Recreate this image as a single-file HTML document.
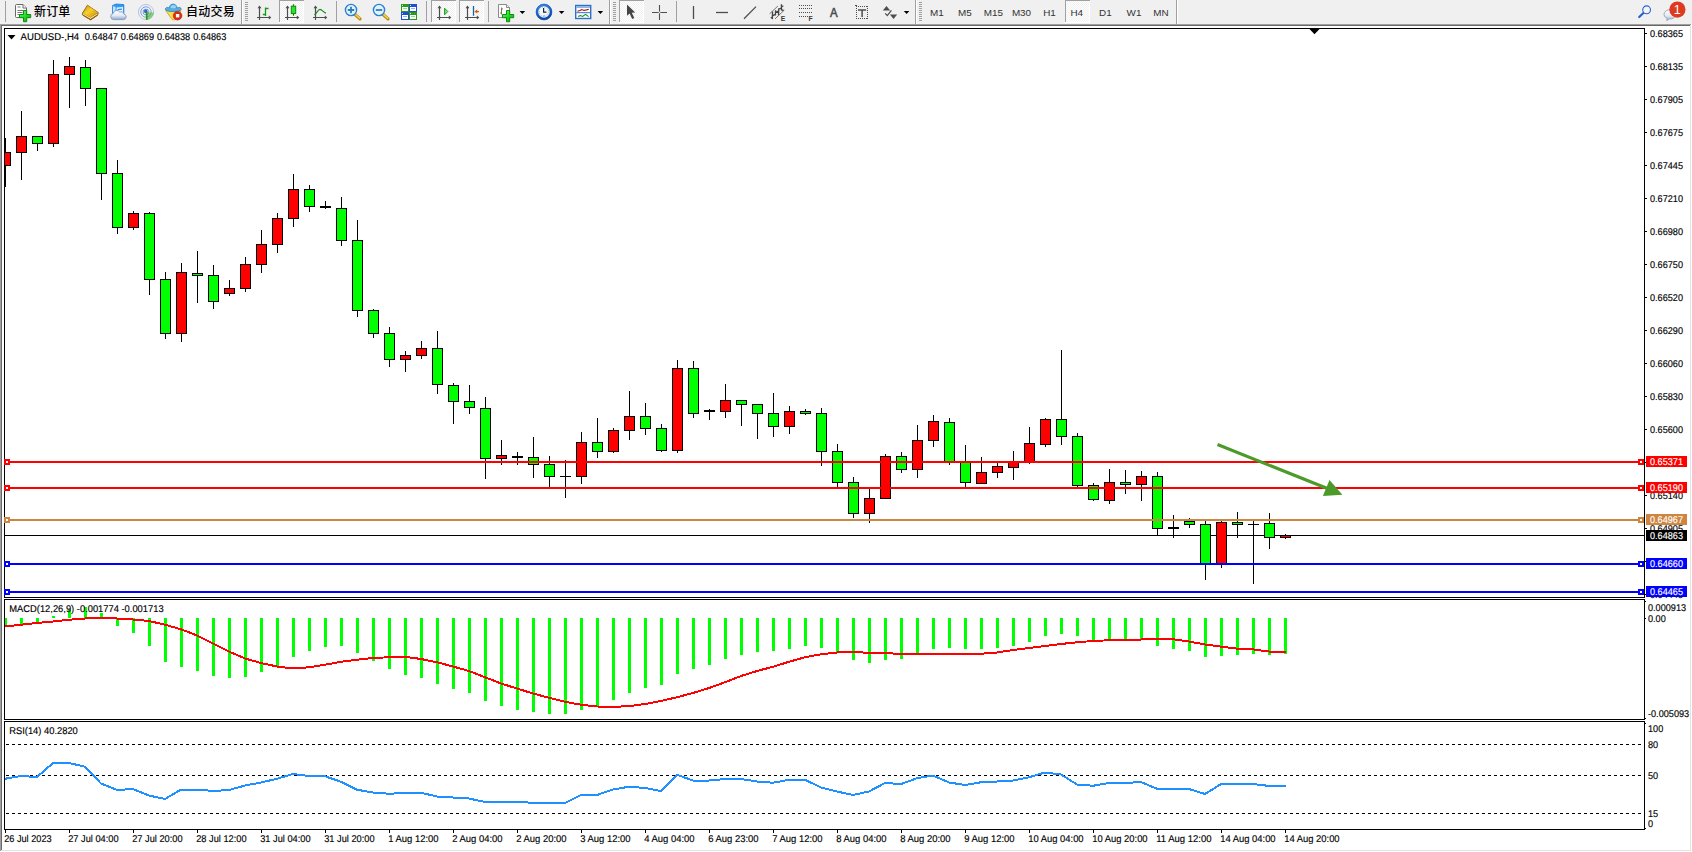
<!DOCTYPE html>
<html lang="zh"><head><meta charset="utf-8"><title>AUDUSD-,H4</title>
<style>html,body{margin:0;padding:0;background:#fff;overflow:hidden}svg{display:block}text{white-space:pre}</style>
</head><body>
<svg width="1692" height="852" viewBox="0 0 1692 852" font-family="'Liberation Sans', sans-serif" shape-rendering="crispEdges">
<defs><pattern id="chk" width="2" height="2" patternUnits="userSpaceOnUse"><rect width="2" height="2" fill="#fff"/><rect width="1" height="1" fill="#f0f0f0"/><rect x="1" y="1" width="1" height="1" fill="#f0f0f0"/></pattern>
<clipPath id="cm"><rect x="5" y="29" width="1639" height="568"/></clipPath>
</defs>
<rect x="0" y="0" width="1692" height="852" fill="#f0f0f0"/>
<rect x="0" y="24" width="1692" height="828" fill="#fff"/>
<rect x="0" y="24" width="1691" height="1" fill="#a0a0a0"/>
<rect x="1" y="25" width="1689" height="1" fill="#696969"/>
<rect x="0" y="24" width="1" height="828" fill="#a0a0a0"/>
<rect x="1" y="25" width="1" height="826" fill="#696969"/>
<rect x="1690" y="25" width="1" height="826" fill="#e3e3e3"/>
<rect x="1" y="850" width="1690" height="1" fill="#e3e3e3"/>
<rect x="1691" y="24" width="1" height="828" fill="#fff"/>
<rect x="0" y="851" width="1692" height="1" fill="#fff"/>
<g id="toolbar">
<rect x="5" y="1" width="1" height="21" fill="#a0a0a0"/>
<defs><linearGradient id="gp" x1="0" y1="0" x2="1" y2="1"><stop offset="0" stop-color="#7dfb7d"/><stop offset=".5" stop-color="#22dc22"/><stop offset="1" stop-color="#0aa80a"/></linearGradient><linearGradient id="gbk" x1="0" y1="0" x2="1" y2="1"><stop offset="0" stop-color="#c8900c"/><stop offset=".45" stop-color="#f7d128"/><stop offset="1" stop-color="#c48a0c"/></linearGradient><linearGradient id="gcl" x1="0" y1="0" x2="0" y2="1"><stop offset="0" stop-color="#ffffff"/><stop offset=".55" stop-color="#e4eaf4"/><stop offset="1" stop-color="#8fa6cc"/></linearGradient><radialGradient id="gck" cx=".4" cy=".35" r=".8"><stop offset="0" stop-color="#ffffff"/><stop offset="1" stop-color="#dfe8f4"/></radialGradient></defs>
<g shape-rendering="auto"><path d="M16.5,4.5h6.5l3.5,3.5v8.5q0,1 -1,1h-9q-1,0 -1,-1v-11q0,-1 1,-1z" fill="#fcfcfc" stroke="#686868" stroke-width="1"/><path d="M23,4.5v3.5h3.5" fill="#fff" stroke="#686868" stroke-width="1"/><path d="M17.5,7h3M17.5,10.5h6M17.5,12.5h5M17.5,14.5h3" stroke="#777" stroke-width="1.1"/></g>
<path d="M23.5,10.5h3.2v4h4v3.2h-4v4h-3.2v-4h-4v-3.2h4z" fill="url(#gp)" stroke="#0c8c0c" stroke-width="1" stroke-linejoin="round" shape-rendering="auto"/>
<text x="34" y="16.2" font-size="12" font-weight="500" letter-spacing=".15" fill="#000" font-family="'Liberation Sans','Noto Sans CJK SC',sans-serif">新订单</text>
<g shape-rendering="auto"><path d="M87.4,5.2 L98.3,12.6 L97.6,15.2 L90.6,19.9 L82.2,14.6 L82.6,13 Z" fill="#a8700c" stroke="#8a5a08" stroke-width=".8" stroke-linejoin="round"/><path d="M82.8,14.6 L90.6,19 L97.4,14.6 L97.6,13.2 L90.4,17.4 L83,13.4Z" fill="#f0e0a0"/><path d="M87.4,5.4 C86.6,7 85,10.6 82.8,13.2 L90.4,17.2 L98,12.6 Z" fill="url(#gbk)"/><path d="M82.8,15.2 L90.6,19.6 L97.6,15" stroke="#8a5a08" stroke-width=".9" fill="none"/></g>
<g shape-rendering="auto"><path d="M112.5,5.6 L116,4 L123.8,4.6 L123.8,14 L112.5,14 Z" fill="#2f9cf0" stroke="#1c78dc" stroke-width=".8"/><path d="M112.9,6 L115.6,7 L115.6,14 L112.9,14Z" fill="#bfe4ff"/><path d="M116.6,7.4 L123,7 L123,13 L116.6,13Z" fill="#e8f4ff"/><path d="M117.6,9.6 L122,9.2" stroke="#2f8ce0" stroke-width="1.2"/><path d="M113.4,19.6 a3.1,3.1 0 0 1 -0.2,-6.1 a3.6,3.6 0 0 1 6.6,-1.4 a3,3 0 0 1 4.2,2 a2.8,2.8 0 0 1 -0.3,5.5 Z" fill="url(#gcl)" stroke="#8098c4" stroke-width=".9"/></g>
<defs><linearGradient id="gsg" x1="0" y1="0" x2="1" y2="1"><stop offset="0" stop-color="#3f74e0"/><stop offset=".55" stop-color="#6f8fd0"/><stop offset="1" stop-color="#3aa83a"/></linearGradient></defs>
<g shape-rendering="auto" fill="none"><circle cx="146" cy="12" r="7.6" stroke="url(#gsg)" stroke-width="1" opacity=".4"/><circle cx="146" cy="12" r="5.2" stroke="url(#gsg)" stroke-width="1" opacity=".75"/><circle cx="146" cy="12" r="2.9" stroke="url(#gsg)" stroke-width=".9" opacity=".9"/><path d="M146.6,19.8 A7.8,7.8 0 0 0 153.8,12.4 L146.6,12.4Z" fill="#4aa84a" opacity=".55"/><circle cx="145.8" cy="11.4" r="1.8" fill="#2b62d6"/><path d="M146.7,12v7.8" stroke="#1d9a1d" stroke-width="1.6"/></g>
<g shape-rendering="auto"><path d="M165.6,10.6 L181,10.6 L175.4,19.8 L172.4,19.8 Z" fill="#f8dc50" stroke="#d4a41c" stroke-width=".9" stroke-linejoin="round"/><path d="M165.2,9.2 C166,6.4 169,7.6 169.6,8 C169,3 177,2.6 176.8,8 C178,7.4 181,6.6 181.2,9.2 C180,12.4 166.6,12.4 165.2,9.2Z" fill="#58aee2" stroke="#2a80c0" stroke-width=".8"/><path d="M170.4,7.6 C171,4.4 175.6,4.2 176,7.4 C174.4,8.6 172,8.6 170.4,7.6Z" fill="#9ad4f4"/><circle cx="177.6" cy="15.7" r="4.3" fill="#e02a10" stroke="#b01c08" stroke-width=".6"/><rect x="175.9" y="14" width="3.4" height="3.4" fill="#fff"/></g>
<text x="186.1" y="16.2" font-size="12" font-weight="500" letter-spacing=".25" fill="#000" font-family="'Liberation Sans','Noto Sans CJK SC',sans-serif">自动交易</text>
<rect x="241" y="0" width="1" height="24" fill="#a0a0a0"/><rect x="242" y="0" width="1" height="24" fill="#fff"/>
<rect x="245" y="2" width="3" height="1" fill="#a0a0a0"/>
<rect x="245" y="4" width="3" height="1" fill="#a0a0a0"/>
<rect x="245" y="6" width="3" height="1" fill="#a0a0a0"/>
<rect x="245" y="8" width="3" height="1" fill="#a0a0a0"/>
<rect x="245" y="10" width="3" height="1" fill="#a0a0a0"/>
<rect x="245" y="12" width="3" height="1" fill="#a0a0a0"/>
<rect x="245" y="14" width="3" height="1" fill="#a0a0a0"/>
<rect x="245" y="16" width="3" height="1" fill="#a0a0a0"/>
<rect x="245" y="18" width="3" height="1" fill="#a0a0a0"/>
<rect x="245" y="20" width="3" height="1" fill="#a0a0a0"/>
<g shape-rendering="auto" stroke="#4d4d4d" stroke-width="1.2" fill="#4d4d4d"><path d="M259.5,6.5V20M257.0,17.5H270.0" fill="none"/><polygon points="257.5,8.2 259.5,5.6 261.5,8.2" stroke="none"/><polygon points="268.8,15.5 271.3,17.5 268.8,19.5" stroke="none"/></g>
<path d="M265.5,7.5V16M265.5,8.5H268.5M262.8,14.5H265.5" stroke="#189a18" stroke-width="1.3" fill="none" shape-rendering="auto"/>
<rect x="279" y="0" width="25" height="23" fill="url(#chk)"/>
<rect x="279" y="0" width="25" height="1" fill="#a0a0a0"/><rect x="279" y="0" width="1" height="23" fill="#a0a0a0"/>
<rect x="279" y="22" width="25" height="1" fill="#fff"/><rect x="303" y="1" width="1" height="22" fill="#fff"/>
<g shape-rendering="auto" stroke="#4d4d4d" stroke-width="1.2" fill="#4d4d4d"><path d="M287.5,6.5V20M285.0,17.5H298.0" fill="none"/><polygon points="285.5,8.2 287.5,5.6 289.5,8.2" stroke="none"/><polygon points="296.8,15.5 299.3,17.5 296.8,19.5" stroke="none"/></g>
<g shape-rendering="auto"><path d="M293.5,4.2V15.8" stroke="#0c8a0c" stroke-width="1.2"/><rect x="291.3" y="6.2" width="4.4" height="7.4" fill="#2fe02f" stroke="#0c8a0c" stroke-width="1"/></g>
<g shape-rendering="auto" stroke="#4d4d4d" stroke-width="1.2" fill="#4d4d4d"><path d="M315.5,6.5V20M313.0,17.5H326.0" fill="none"/><polygon points="313.5,8.2 315.5,5.6 317.5,8.2" stroke="none"/><polygon points="324.8,15.5 327.3,17.5 324.8,19.5" stroke="none"/></g>
<path d="M314.3,14.8 C316.5,13.6 318,9.4 320,9.4 C322,9.4 323.5,12.6 326,13.2" stroke="#1c8c1c" stroke-width="1.2" fill="none" shape-rendering="auto"/>
<rect x="336" y="1" width="1" height="21" fill="#a0a0a0"/>
<g shape-rendering="auto"><path d="M354.8,14.2 L360,18.9" stroke="#b8860b" stroke-width="3.2" stroke-linecap="round"/><path d="M355,14 L359.6,18.2" stroke="#f2d04a" stroke-width="1.6" stroke-linecap="round"/><circle cx="351" cy="10" r="5.6" fill="#dff4ff" stroke="#2f7fd0" stroke-width="1.4"/><path d="M347.8,10H354.2M351,6.8V13.2" stroke="#2e7fb8" stroke-width="1.8"/></g>
<g shape-rendering="auto"><path d="M382.8,14.2 L388,18.9" stroke="#b8860b" stroke-width="3.2" stroke-linecap="round"/><path d="M383,14 L387.6,18.2" stroke="#f2d04a" stroke-width="1.6" stroke-linecap="round"/><circle cx="379" cy="10" r="5.6" fill="#dff4ff" stroke="#2f7fd0" stroke-width="1.4"/><path d="M375.8,10H382.2" stroke="#2e7fb8" stroke-width="1.8"/></g>
<rect x="401" y="4" width="8" height="8" fill="#2c9a1c"/><rect x="402" y="7" width="6" height="4" fill="#fff"/><rect x="403" y="8" width="4" height="1" fill="#8fdc70"/><rect x="402" y="5" width="1" height="1" fill="#fff" opacity=".8"/>
<rect x="409" y="4" width="8" height="8" fill="#1d4fd0"/><rect x="410" y="7" width="6" height="4" fill="#fff"/><rect x="411" y="8" width="4" height="1" fill="#8fb0ff"/><rect x="410" y="5" width="1" height="1" fill="#fff" opacity=".8"/>
<rect x="401" y="12" width="8" height="8" fill="#1d4fd0"/><rect x="402" y="15" width="6" height="4" fill="#fff"/><rect x="403" y="16" width="4" height="1" fill="#8fb0ff"/><rect x="402" y="13" width="1" height="1" fill="#fff" opacity=".8"/>
<rect x="409" y="12" width="8" height="8" fill="#2c9a1c"/><rect x="410" y="15" width="6" height="4" fill="#fff"/><rect x="411" y="16" width="4" height="1" fill="#8fdc70"/><rect x="410" y="13" width="1" height="1" fill="#fff" opacity=".8"/>
<rect x="426" y="1" width="1" height="21" fill="#a0a0a0"/>
<rect x="431" y="0" width="25" height="23" fill="url(#chk)"/>
<rect x="431" y="0" width="25" height="1" fill="#a0a0a0"/><rect x="431" y="0" width="1" height="23" fill="#a0a0a0"/>
<rect x="431" y="22" width="25" height="1" fill="#fff"/><rect x="455" y="1" width="1" height="22" fill="#fff"/>
<g shape-rendering="auto" stroke="#4d4d4d" stroke-width="1.2" fill="#4d4d4d"><path d="M439.5,6.5V20M437.0,17.5H450.0" fill="none"/><polygon points="437.5,8.2 439.5,5.6 441.5,8.2" stroke="none"/><polygon points="448.8,15.5 451.3,17.5 448.8,19.5" stroke="none"/></g>
<polygon points="444.6,8.2 447.8,11.5 444.6,14.8" fill="#7fe07f" stroke="#189a18" stroke-width="1" shape-rendering="auto"/>
<rect x="459" y="0" width="25" height="23" fill="url(#chk)"/>
<rect x="459" y="0" width="25" height="1" fill="#a0a0a0"/><rect x="459" y="0" width="1" height="23" fill="#a0a0a0"/>
<rect x="459" y="22" width="25" height="1" fill="#fff"/><rect x="483" y="1" width="1" height="22" fill="#fff"/>
<g shape-rendering="auto" stroke="#4d4d4d" stroke-width="1.2" fill="#4d4d4d"><path d="M467.5,6.5V20M465.0,17.5H478.0" fill="none"/><polygon points="465.5,8.2 467.5,5.6 469.5,8.2" stroke="none"/><polygon points="476.8,15.5 479.3,17.5 476.8,19.5" stroke="none"/></g>
<g shape-rendering="auto"><path d="M473.5,6V15.8" stroke="#1464a8" stroke-width="1.3"/><path d="M475,11.6H479" stroke="#d04a00" stroke-width="1.1"/><polygon points="474.3,11.6 477.3,9.6 477.3,13.6" fill="#e05a00"/></g>
<rect x="488" y="1" width="1" height="21" fill="#a0a0a0"/>
<g shape-rendering="auto"><path d="M498.5,4.5h8l3,3v10h-11z" fill="#fff" stroke="#8a8a8a" stroke-width="1"/><path d="M506.5,4.5v3h3" fill="#eee" stroke="#8a8a8a" stroke-width="1"/><path d="M501.5,7.5v7M501.5,9h1.5M500,13h1.5" stroke="#7a6a4a" stroke-width=".9" fill="none"/></g>
<path d="M506.5,10.5h3.2v4h4v3.2h-4v4h-3.2v-4h-4v-3.2h4z" fill="url(#gp)" stroke="#0c8c0c" stroke-width="1" stroke-linejoin="round" shape-rendering="auto"/>
<polygon points="519.6,11.1 525.2,11.1 522.4,14" fill="#000" shape-rendering="auto"/>
<defs><linearGradient id="gcr" x1="0" y1="0" x2="0.3" y2="1"><stop offset="0" stop-color="#2f8cf0"/><stop offset="1" stop-color="#0a48b0"/></linearGradient></defs>
<g shape-rendering="auto"><circle cx="544" cy="12" r="6.9" fill="url(#gck)" stroke="url(#gcr)" stroke-width="2.3"/><circle cx="544" cy="12" r="7.9" fill="none" stroke="#0c4aa8" stroke-width=".6"/><path d="M543.6,8V12.2H546.4" stroke="#222" stroke-width="1.2" fill="none"/><path d="M543.2,15.9h1.8" stroke="#6aa8ff" stroke-width="1"/><circle cx="544" cy="12" r="4.6" fill="none" stroke="#8a8a8a" stroke-width="1" stroke-dasharray=".6,1.81"/></g>
<polygon points="558.8,11.1 564.4,11.1 561.5999999999999,14" fill="#000" shape-rendering="auto"/>
<g shape-rendering="auto"><rect x="575.7" y="5.5" width="15" height="13" fill="#fff" stroke="#2f6fc8" stroke-width="1.4"/><rect x="576.4" y="6.2" width="13.6" height="1.7" fill="#7ab0ea"/><path d="M576.4,12.7h13.6" stroke="#2f6fc8" stroke-width="1"/><path d="M577.5,11.2 L580,10.4 L581.8,9.6 L584,10.4 L586,10 L588.7,9.4" stroke="#a01010" stroke-width="1.1" fill="none"/><path d="M578.2,16.6 L580.4,15.6 L582.6,16.4 L585.6,14.4 L588.6,16.6" stroke="#0c8a1c" stroke-width="1.1" fill="none"/></g>
<polygon points="597.6,11.1 603.2,11.1 600.4,14" fill="#000" shape-rendering="auto"/>
<rect x="609" y="0" width="1" height="24" fill="#a0a0a0"/><rect x="610" y="0" width="1" height="24" fill="#fff"/>
<rect x="613" y="2" width="3" height="1" fill="#a0a0a0"/>
<rect x="613" y="4" width="3" height="1" fill="#a0a0a0"/>
<rect x="613" y="6" width="3" height="1" fill="#a0a0a0"/>
<rect x="613" y="8" width="3" height="1" fill="#a0a0a0"/>
<rect x="613" y="10" width="3" height="1" fill="#a0a0a0"/>
<rect x="613" y="12" width="3" height="1" fill="#a0a0a0"/>
<rect x="613" y="14" width="3" height="1" fill="#a0a0a0"/>
<rect x="613" y="16" width="3" height="1" fill="#a0a0a0"/>
<rect x="613" y="18" width="3" height="1" fill="#a0a0a0"/>
<rect x="613" y="20" width="3" height="1" fill="#a0a0a0"/>
<rect x="619" y="0" width="25" height="23" fill="url(#chk)"/>
<rect x="619" y="0" width="25" height="1" fill="#a0a0a0"/><rect x="619" y="0" width="1" height="23" fill="#a0a0a0"/>
<rect x="619" y="22" width="25" height="1" fill="#fff"/><rect x="643" y="1" width="1" height="22" fill="#fff"/>
<polygon points="627,4.6 627,15.8 629.6,13.6 632.2,19 634.3,18 631.8,12.8 635.2,12.6" fill="#454545" shape-rendering="auto"/>
<path d="M659.5,5V11.7M659.5,13.3V20M652,12.5H658.7M660.3,12.5H667" stroke="#505050" stroke-width="1.1" fill="none" shape-rendering="auto"/>
<rect x="676" y="1" width="1" height="21" fill="#a0a0a0"/>
<g stroke="#4d4d4d" stroke-width="1.3" fill="none" shape-rendering="auto"><path d="M693.5,6V19"/><path d="M716,12.5H728"/><path d="M744,18.8L756,6.6"/></g>
<g shape-rendering="auto" stroke="#444" fill="none"><path d="M769.6,13.8L777.9,6M775,18.9L784.3,10.1" stroke-width=".9" stroke="#666"/><path d="M770.8,17.3L772.4,18.5L772.5,11.4M772.4,15.8L775.4,14.4M775.4,15.6L775.6,10.2M775.5,12.4L778.5,11.2M778.5,15.2L778.8,8.2M778.7,9.2L781.4,8.2M781.6,10.6L781.4,4.2M781.5,6.4L783.4,6.2M781.6,10L783.6,10.4" stroke-width="1.35" stroke-linejoin="round"/></g>
<text x="780.8" y="21" font-size="6.8" font-weight="bold" fill="#3a3a3a">E</text>
<rect x="799" y="5" width="1" height="1" fill="#4d4d4d"/>
<rect x="801" y="5" width="1" height="1" fill="#4d4d4d"/>
<rect x="803" y="5" width="1" height="1" fill="#4d4d4d"/>
<rect x="805" y="5" width="1" height="1" fill="#4d4d4d"/>
<rect x="807" y="5" width="1" height="1" fill="#4d4d4d"/>
<rect x="809" y="5" width="1" height="1" fill="#4d4d4d"/>
<rect x="811" y="5" width="1" height="1" fill="#4d4d4d"/>
<rect x="799" y="8" width="1" height="1" fill="#4d4d4d"/>
<rect x="801" y="8" width="1" height="1" fill="#4d4d4d"/>
<rect x="803" y="8" width="1" height="1" fill="#4d4d4d"/>
<rect x="805" y="8" width="1" height="1" fill="#4d4d4d"/>
<rect x="807" y="8" width="1" height="1" fill="#4d4d4d"/>
<rect x="809" y="8" width="1" height="1" fill="#4d4d4d"/>
<rect x="811" y="8" width="1" height="1" fill="#4d4d4d"/>
<rect x="799" y="12" width="1" height="1" fill="#4d4d4d"/>
<rect x="801" y="12" width="1" height="1" fill="#4d4d4d"/>
<rect x="803" y="12" width="1" height="1" fill="#4d4d4d"/>
<rect x="805" y="12" width="1" height="1" fill="#4d4d4d"/>
<rect x="807" y="12" width="1" height="1" fill="#4d4d4d"/>
<rect x="809" y="12" width="1" height="1" fill="#4d4d4d"/>
<rect x="811" y="12" width="1" height="1" fill="#4d4d4d"/>
<rect x="799" y="16" width="1" height="1" fill="#4d4d4d"/>
<rect x="801" y="16" width="1" height="1" fill="#4d4d4d"/>
<rect x="803" y="16" width="1" height="1" fill="#4d4d4d"/>
<rect x="805" y="16" width="1" height="1" fill="#4d4d4d"/>
<rect x="807" y="16" width="1" height="1" fill="#4d4d4d"/>
<text x="808.6" y="21" font-size="6.8" font-weight="bold" fill="#3a3a3a">F</text>
<text x="833.8" y="17" font-size="12" fill="#4d4d4d" text-anchor="middle" stroke="#4d4d4d" stroke-width=".55" textLength="7.6" lengthAdjust="spacingAndGlyphs">A</text>
<rect x="858" y="6" width="1" height="1" fill="#4d4d4d"/><rect x="858" y="18" width="1" height="1" fill="#4d4d4d"/>
<rect x="860" y="6" width="1" height="1" fill="#4d4d4d"/><rect x="860" y="18" width="1" height="1" fill="#4d4d4d"/>
<rect x="862" y="6" width="1" height="1" fill="#4d4d4d"/><rect x="862" y="18" width="1" height="1" fill="#4d4d4d"/>
<rect x="864" y="6" width="1" height="1" fill="#4d4d4d"/><rect x="864" y="18" width="1" height="1" fill="#4d4d4d"/>
<rect x="866" y="6" width="1" height="1" fill="#4d4d4d"/><rect x="866" y="18" width="1" height="1" fill="#4d4d4d"/>
<rect x="856" y="6" width="1" height="1" fill="#4d4d4d"/><rect x="867" y="6" width="1" height="1" fill="#4d4d4d"/>
<rect x="856" y="8" width="1" height="1" fill="#4d4d4d"/><rect x="867" y="8" width="1" height="1" fill="#4d4d4d"/>
<rect x="856" y="10" width="1" height="1" fill="#4d4d4d"/><rect x="867" y="10" width="1" height="1" fill="#4d4d4d"/>
<rect x="856" y="12" width="1" height="1" fill="#4d4d4d"/><rect x="867" y="12" width="1" height="1" fill="#4d4d4d"/>
<rect x="856" y="14" width="1" height="1" fill="#4d4d4d"/><rect x="867" y="14" width="1" height="1" fill="#4d4d4d"/>
<rect x="856" y="16" width="1" height="1" fill="#4d4d4d"/><rect x="867" y="16" width="1" height="1" fill="#4d4d4d"/>
<rect x="856" y="18" width="1" height="1" fill="#4d4d4d"/><rect x="867" y="18" width="1" height="1" fill="#4d4d4d"/>
<rect x="855" y="5" width="2" height="1" fill="#4d4d4d"/>
<path d="M858,10H866.2M862.1,10V17" stroke="#4d4d4d" stroke-width="1.5" fill="none" shape-rendering="auto"/>
<g shape-rendering="auto" fill="#4d4d4d"><polygon points="882.8,10.5 886.5,6 890.2,10.5"/><path d="M885.2,13.4L887.3,15.6L891.4,10.4" stroke="#4d4d4d" stroke-width="1.3" fill="none"/><polygon points="889.9,14.6 897.2,14.6 893.5,19"/></g>
<polygon points="903.8,11.1 909.4,11.1 906.5999999999999,14" fill="#000" shape-rendering="auto"/>
<rect x="915" y="0" width="1" height="24" fill="#a0a0a0"/><rect x="916" y="0" width="1" height="24" fill="#fff"/>
<rect x="919" y="2" width="3" height="1" fill="#a0a0a0"/>
<rect x="919" y="4" width="3" height="1" fill="#a0a0a0"/>
<rect x="919" y="6" width="3" height="1" fill="#a0a0a0"/>
<rect x="919" y="8" width="3" height="1" fill="#a0a0a0"/>
<rect x="919" y="10" width="3" height="1" fill="#a0a0a0"/>
<rect x="919" y="12" width="3" height="1" fill="#a0a0a0"/>
<rect x="919" y="14" width="3" height="1" fill="#a0a0a0"/>
<rect x="919" y="16" width="3" height="1" fill="#a0a0a0"/>
<rect x="919" y="18" width="3" height="1" fill="#a0a0a0"/>
<rect x="919" y="20" width="3" height="1" fill="#a0a0a0"/>
<rect x="1065" y="0" width="25" height="23" fill="url(#chk)"/>
<rect x="1065" y="0" width="25" height="1" fill="#a0a0a0"/><rect x="1065" y="0" width="1" height="23" fill="#a0a0a0"/>
<rect x="1065" y="22" width="25" height="1" fill="#fff"/><rect x="1089" y="1" width="1" height="22" fill="#fff"/>
<text x="936.8" y="16.1" font-size="9.9" fill="#333" text-anchor="middle">M1</text>
<text x="964.8" y="16.1" font-size="9.9" fill="#333" text-anchor="middle">M5</text>
<text x="993.3" y="16.1" font-size="9.9" fill="#333" text-anchor="middle">M15</text>
<text x="1021.5" y="16.1" font-size="9.9" fill="#333" text-anchor="middle">M30</text>
<text x="1049.5" y="16.1" font-size="9.9" fill="#333" text-anchor="middle">H1</text>
<text x="1076.8" y="16.1" font-size="9.9" fill="#333" text-anchor="middle">H4</text>
<text x="1105.4" y="16.1" font-size="9.9" fill="#333" text-anchor="middle">D1</text>
<text x="1134" y="16.1" font-size="9.9" fill="#333" text-anchor="middle">W1</text>
<text x="1161" y="16.1" font-size="9.9" fill="#333" text-anchor="middle">MN</text>
<rect x="1176" y="0" width="1" height="24" fill="#a0a0a0"/><rect x="1177" y="0" width="1" height="24" fill="#fff"/>
<g shape-rendering="auto"><path d="M1643.4,13 L1639.2,17" stroke="#2a5fd0" stroke-width="2.2" stroke-linecap="round"/><circle cx="1646.6" cy="9.8" r="3.9" fill="#f4f4f4" stroke="#2a5fd0" stroke-width="1.1"/><path d="M1664,14.5 a6,4.6 0 1 1 5,4.4 l-2.2,1.8 l0.3,-2.3 a6,4.6 0 0 1 -3.1,-3.9z" fill="url(#gcl)" stroke="#a4a8b4" stroke-width="1"/><circle cx="1677.4" cy="9.6" r="8.1" fill="#de3a20"/></g>
<text x="1677.2" y="14.2" font-size="12.5" fill="#fff" text-anchor="middle">1</text>
</g>
<rect x="4" y="28" width="1641" height="1" fill="#000"/>
<rect x="4" y="28" width="1" height="802" fill="#000"/>
<rect x="1644" y="28" width="1" height="802" fill="#000"/>
<rect x="4" y="597" width="1641" height="1" fill="#000"/>
<rect x="4" y="599" width="1641" height="1" fill="#000"/>
<rect x="4" y="719" width="1641" height="1" fill="#000"/>
<rect x="4" y="721" width="1641" height="1" fill="#000"/>
<rect x="4" y="829" width="1641" height="1" fill="#000"/>
<rect x="4" y="598" width="1641" height="1" fill="#fff"/>
<rect x="4" y="720" width="1641" height="1" fill="#fff"/>
<rect x="1645" y="33" width="2" height="1" fill="#000"/>
<text x="1650" y="37" fill="#000" stroke="#000" stroke-width=".15" text-rendering="geometricPrecision" font-size="9.8" textLength="33.00" lengthAdjust="spacingAndGlyphs">0.68365</text>
<rect x="1645" y="66" width="2" height="1" fill="#000"/>
<text x="1650" y="70" fill="#000" stroke="#000" stroke-width=".15" text-rendering="geometricPrecision" font-size="9.8" textLength="33.00" lengthAdjust="spacingAndGlyphs">0.68135</text>
<rect x="1645" y="99" width="2" height="1" fill="#000"/>
<text x="1650" y="103" fill="#000" stroke="#000" stroke-width=".15" text-rendering="geometricPrecision" font-size="9.8" textLength="33.00" lengthAdjust="spacingAndGlyphs">0.67905</text>
<rect x="1645" y="132" width="2" height="1" fill="#000"/>
<text x="1650" y="136" fill="#000" stroke="#000" stroke-width=".15" text-rendering="geometricPrecision" font-size="9.8" textLength="33.00" lengthAdjust="spacingAndGlyphs">0.67675</text>
<rect x="1645" y="165" width="2" height="1" fill="#000"/>
<text x="1650" y="169" fill="#000" stroke="#000" stroke-width=".15" text-rendering="geometricPrecision" font-size="9.8" textLength="33.00" lengthAdjust="spacingAndGlyphs">0.67445</text>
<rect x="1645" y="198" width="2" height="1" fill="#000"/>
<text x="1650" y="202" fill="#000" stroke="#000" stroke-width=".15" text-rendering="geometricPrecision" font-size="9.8" textLength="33.00" lengthAdjust="spacingAndGlyphs">0.67210</text>
<rect x="1645" y="231" width="2" height="1" fill="#000"/>
<text x="1650" y="235" fill="#000" stroke="#000" stroke-width=".15" text-rendering="geometricPrecision" font-size="9.8" textLength="33.00" lengthAdjust="spacingAndGlyphs">0.66980</text>
<rect x="1645" y="264" width="2" height="1" fill="#000"/>
<text x="1650" y="268" fill="#000" stroke="#000" stroke-width=".15" text-rendering="geometricPrecision" font-size="9.8" textLength="33.00" lengthAdjust="spacingAndGlyphs">0.66750</text>
<rect x="1645" y="297" width="2" height="1" fill="#000"/>
<text x="1650" y="301" fill="#000" stroke="#000" stroke-width=".15" text-rendering="geometricPrecision" font-size="9.8" textLength="33.00" lengthAdjust="spacingAndGlyphs">0.66520</text>
<rect x="1645" y="330" width="2" height="1" fill="#000"/>
<text x="1650" y="334" fill="#000" stroke="#000" stroke-width=".15" text-rendering="geometricPrecision" font-size="9.8" textLength="33.00" lengthAdjust="spacingAndGlyphs">0.66290</text>
<rect x="1645" y="363" width="2" height="1" fill="#000"/>
<text x="1650" y="367" fill="#000" stroke="#000" stroke-width=".15" text-rendering="geometricPrecision" font-size="9.8" textLength="33.00" lengthAdjust="spacingAndGlyphs">0.66060</text>
<rect x="1645" y="396" width="2" height="1" fill="#000"/>
<text x="1650" y="400" fill="#000" stroke="#000" stroke-width=".15" text-rendering="geometricPrecision" font-size="9.8" textLength="33.00" lengthAdjust="spacingAndGlyphs">0.65830</text>
<rect x="1645" y="429" width="2" height="1" fill="#000"/>
<text x="1650" y="433" fill="#000" stroke="#000" stroke-width=".15" text-rendering="geometricPrecision" font-size="9.8" textLength="33.00" lengthAdjust="spacingAndGlyphs">0.65600</text>
<rect x="1645" y="462" width="2" height="1" fill="#000"/>
<text x="1650" y="466" fill="#000" stroke="#000" stroke-width=".15" text-rendering="geometricPrecision" font-size="9.8" textLength="33.00" lengthAdjust="spacingAndGlyphs">0.65370</text>
<rect x="1645" y="495" width="2" height="1" fill="#000"/>
<text x="1650" y="499" fill="#000" stroke="#000" stroke-width=".15" text-rendering="geometricPrecision" font-size="9.8" textLength="33.00" lengthAdjust="spacingAndGlyphs">0.65140</text>
<rect x="1645" y="528" width="2" height="1" fill="#000"/>
<text x="1650" y="532" fill="#000" stroke="#000" stroke-width=".15" text-rendering="geometricPrecision" font-size="9.8" textLength="33.00" lengthAdjust="spacingAndGlyphs">0.64905</text>
<rect x="1645" y="561" width="2" height="1" fill="#000"/>
<text x="1650" y="565" fill="#000" stroke="#000" stroke-width=".15" text-rendering="geometricPrecision" font-size="9.8" textLength="33.00" lengthAdjust="spacingAndGlyphs">0.64675</text>
<rect x="1645" y="594" width="2" height="1" fill="#000"/>
<text x="1650" y="598" fill="#000" stroke="#000" stroke-width=".15" text-rendering="geometricPrecision" font-size="9.8" textLength="33.00" lengthAdjust="spacingAndGlyphs">0.64445</text>
<polygon points="7.5,35 15.5,35 11.5,39.5" fill="#000" shape-rendering="auto"/>
<text x="20.6" y="40" fill="#000" stroke="#000" stroke-width=".15" text-rendering="geometricPrecision" font-size="9.8" textLength="58.60" lengthAdjust="spacingAndGlyphs">AUDUSD-,H4</text>
<text x="84.7" y="40" fill="#000" stroke="#000" stroke-width=".15" text-rendering="geometricPrecision" font-size="9.8" textLength="33.20" lengthAdjust="spacingAndGlyphs">0.64847</text>
<text x="120.85" y="40" fill="#000" stroke="#000" stroke-width=".15" text-rendering="geometricPrecision" font-size="9.8" textLength="33.20" lengthAdjust="spacingAndGlyphs">0.64869</text>
<text x="157.0" y="40" fill="#000" stroke="#000" stroke-width=".15" text-rendering="geometricPrecision" font-size="9.8" textLength="33.20" lengthAdjust="spacingAndGlyphs">0.64838</text>
<text x="193.14999999999998" y="40" fill="#000" stroke="#000" stroke-width=".15" text-rendering="geometricPrecision" font-size="9.8" textLength="33.20" lengthAdjust="spacingAndGlyphs">0.64863</text>
<rect x="5" y="535" width="1639" height="1" fill="#000"/>
<g clip-path="url(#cm)">
<rect x="5" y="138" width="1" height="49" fill="#000"/>
<rect x="0" y="152" width="11" height="14" fill="#000"/>
<rect x="1" y="153" width="9" height="12" fill="#ff0000"/>
<rect x="21" y="111" width="1" height="69" fill="#000"/>
<rect x="16" y="136" width="11" height="17" fill="#000"/>
<rect x="17" y="137" width="9" height="15" fill="#ff0000"/>
<rect x="37" y="136" width="1" height="15" fill="#000"/>
<rect x="32" y="136" width="11" height="8" fill="#000"/>
<rect x="33" y="137" width="9" height="6" fill="#00ff00"/>
<rect x="53" y="60" width="1" height="87" fill="#000"/>
<rect x="48" y="74" width="11" height="70" fill="#000"/>
<rect x="49" y="75" width="9" height="68" fill="#ff0000"/>
<rect x="69" y="57" width="1" height="51" fill="#000"/>
<rect x="64" y="66" width="11" height="9" fill="#000"/>
<rect x="65" y="67" width="9" height="7" fill="#ff0000"/>
<rect x="85" y="60" width="1" height="46" fill="#000"/>
<rect x="80" y="67" width="11" height="22" fill="#000"/>
<rect x="81" y="68" width="9" height="20" fill="#00ff00"/>
<rect x="101" y="88" width="1" height="112" fill="#000"/>
<rect x="96" y="88" width="11" height="86" fill="#000"/>
<rect x="97" y="89" width="9" height="84" fill="#00ff00"/>
<rect x="117" y="160" width="1" height="74" fill="#000"/>
<rect x="112" y="173" width="11" height="55" fill="#000"/>
<rect x="113" y="174" width="9" height="53" fill="#00ff00"/>
<rect x="133" y="211" width="1" height="19" fill="#000"/>
<rect x="128" y="213" width="11" height="15" fill="#000"/>
<rect x="129" y="214" width="9" height="13" fill="#ff0000"/>
<rect x="149" y="212" width="1" height="83" fill="#000"/>
<rect x="144" y="213" width="11" height="67" fill="#000"/>
<rect x="145" y="214" width="9" height="65" fill="#00ff00"/>
<rect x="165" y="272" width="1" height="67" fill="#000"/>
<rect x="160" y="279" width="11" height="55" fill="#000"/>
<rect x="161" y="280" width="9" height="53" fill="#00ff00"/>
<rect x="181" y="263" width="1" height="79" fill="#000"/>
<rect x="176" y="272" width="11" height="62" fill="#000"/>
<rect x="177" y="273" width="9" height="60" fill="#ff0000"/>
<rect x="197" y="251" width="1" height="52" fill="#000"/>
<rect x="192" y="273" width="11" height="3" fill="#000"/>
<rect x="193" y="274" width="9" height="1" fill="#00ff00"/>
<rect x="213" y="265" width="1" height="44" fill="#000"/>
<rect x="208" y="275" width="11" height="27" fill="#000"/>
<rect x="209" y="276" width="9" height="25" fill="#00ff00"/>
<rect x="229" y="280" width="1" height="16" fill="#000"/>
<rect x="224" y="288" width="11" height="6" fill="#000"/>
<rect x="225" y="289" width="9" height="4" fill="#ff0000"/>
<rect x="245" y="257" width="1" height="35" fill="#000"/>
<rect x="240" y="264" width="11" height="25" fill="#000"/>
<rect x="241" y="265" width="9" height="23" fill="#ff0000"/>
<rect x="261" y="230" width="1" height="43" fill="#000"/>
<rect x="256" y="244" width="11" height="21" fill="#000"/>
<rect x="257" y="245" width="9" height="19" fill="#ff0000"/>
<rect x="277" y="213" width="1" height="40" fill="#000"/>
<rect x="272" y="218" width="11" height="27" fill="#000"/>
<rect x="273" y="219" width="9" height="25" fill="#ff0000"/>
<rect x="293" y="174" width="1" height="53" fill="#000"/>
<rect x="288" y="189" width="11" height="30" fill="#000"/>
<rect x="289" y="190" width="9" height="28" fill="#ff0000"/>
<rect x="309" y="185" width="1" height="27" fill="#000"/>
<rect x="304" y="189" width="11" height="18" fill="#000"/>
<rect x="305" y="190" width="9" height="16" fill="#00ff00"/>
<rect x="325" y="201" width="1" height="8" fill="#000"/>
<rect x="320" y="206" width="11" height="2" fill="#000"/>
<rect x="341" y="197" width="1" height="49" fill="#000"/>
<rect x="336" y="208" width="11" height="33" fill="#000"/>
<rect x="337" y="209" width="9" height="31" fill="#00ff00"/>
<rect x="357" y="220" width="1" height="97" fill="#000"/>
<rect x="352" y="240" width="11" height="71" fill="#000"/>
<rect x="353" y="241" width="9" height="69" fill="#00ff00"/>
<rect x="373" y="309" width="1" height="29" fill="#000"/>
<rect x="368" y="310" width="11" height="24" fill="#000"/>
<rect x="369" y="311" width="9" height="22" fill="#00ff00"/>
<rect x="389" y="327" width="1" height="40" fill="#000"/>
<rect x="384" y="333" width="11" height="27" fill="#000"/>
<rect x="385" y="334" width="9" height="25" fill="#00ff00"/>
<rect x="405" y="351" width="1" height="21" fill="#000"/>
<rect x="400" y="355" width="11" height="5" fill="#000"/>
<rect x="401" y="356" width="9" height="3" fill="#ff0000"/>
<rect x="421" y="341" width="1" height="18" fill="#000"/>
<rect x="416" y="348" width="11" height="8" fill="#000"/>
<rect x="417" y="349" width="9" height="6" fill="#ff0000"/>
<rect x="437" y="331" width="1" height="63" fill="#000"/>
<rect x="432" y="348" width="11" height="37" fill="#000"/>
<rect x="433" y="349" width="9" height="35" fill="#00ff00"/>
<rect x="453" y="383" width="1" height="41" fill="#000"/>
<rect x="448" y="385" width="11" height="17" fill="#000"/>
<rect x="449" y="386" width="9" height="15" fill="#00ff00"/>
<rect x="469" y="385" width="1" height="29" fill="#000"/>
<rect x="464" y="401" width="11" height="7" fill="#000"/>
<rect x="465" y="402" width="9" height="5" fill="#00ff00"/>
<rect x="485" y="397" width="1" height="82" fill="#000"/>
<rect x="480" y="408" width="11" height="51" fill="#000"/>
<rect x="481" y="409" width="9" height="49" fill="#00ff00"/>
<rect x="501" y="440" width="1" height="25" fill="#000"/>
<rect x="496" y="455" width="11" height="4" fill="#000"/>
<rect x="497" y="456" width="9" height="2" fill="#ff0000"/>
<rect x="517" y="452" width="1" height="13" fill="#000"/>
<rect x="512" y="456" width="11" height="2" fill="#000"/>
<rect x="533" y="437" width="1" height="41" fill="#000"/>
<rect x="528" y="457" width="11" height="8" fill="#000"/>
<rect x="529" y="458" width="9" height="6" fill="#00ff00"/>
<rect x="549" y="456" width="1" height="31" fill="#000"/>
<rect x="544" y="464" width="11" height="13" fill="#000"/>
<rect x="545" y="465" width="9" height="11" fill="#00ff00"/>
<rect x="565" y="460" width="1" height="38" fill="#000"/>
<rect x="560" y="476" width="11" height="1" fill="#000"/>
<rect x="581" y="432" width="1" height="52" fill="#000"/>
<rect x="576" y="442" width="11" height="35" fill="#000"/>
<rect x="577" y="443" width="9" height="33" fill="#ff0000"/>
<rect x="597" y="418" width="1" height="40" fill="#000"/>
<rect x="592" y="442" width="11" height="10" fill="#000"/>
<rect x="593" y="443" width="9" height="8" fill="#00ff00"/>
<rect x="613" y="428" width="1" height="25" fill="#000"/>
<rect x="608" y="430" width="11" height="22" fill="#000"/>
<rect x="609" y="431" width="9" height="20" fill="#ff0000"/>
<rect x="629" y="391" width="1" height="49" fill="#000"/>
<rect x="624" y="416" width="11" height="15" fill="#000"/>
<rect x="625" y="417" width="9" height="13" fill="#ff0000"/>
<rect x="645" y="403" width="1" height="32" fill="#000"/>
<rect x="640" y="416" width="11" height="13" fill="#000"/>
<rect x="641" y="417" width="9" height="11" fill="#00ff00"/>
<rect x="661" y="424" width="1" height="28" fill="#000"/>
<rect x="656" y="428" width="11" height="23" fill="#000"/>
<rect x="657" y="429" width="9" height="21" fill="#00ff00"/>
<rect x="677" y="360" width="1" height="93" fill="#000"/>
<rect x="672" y="368" width="11" height="83" fill="#000"/>
<rect x="673" y="369" width="9" height="81" fill="#ff0000"/>
<rect x="693" y="361" width="1" height="57" fill="#000"/>
<rect x="688" y="368" width="11" height="46" fill="#000"/>
<rect x="689" y="369" width="9" height="44" fill="#00ff00"/>
<rect x="709" y="409" width="1" height="11" fill="#000"/>
<rect x="704" y="410" width="11" height="2" fill="#000"/>
<rect x="725" y="384" width="1" height="34" fill="#000"/>
<rect x="720" y="400" width="11" height="12" fill="#000"/>
<rect x="721" y="401" width="9" height="10" fill="#ff0000"/>
<rect x="741" y="400" width="1" height="26" fill="#000"/>
<rect x="736" y="400" width="11" height="5" fill="#000"/>
<rect x="737" y="401" width="9" height="3" fill="#00ff00"/>
<rect x="757" y="404" width="1" height="35" fill="#000"/>
<rect x="752" y="404" width="11" height="10" fill="#000"/>
<rect x="753" y="405" width="9" height="8" fill="#00ff00"/>
<rect x="773" y="393" width="1" height="44" fill="#000"/>
<rect x="768" y="413" width="11" height="14" fill="#000"/>
<rect x="769" y="414" width="9" height="12" fill="#00ff00"/>
<rect x="789" y="406" width="1" height="28" fill="#000"/>
<rect x="784" y="411" width="11" height="16" fill="#000"/>
<rect x="785" y="412" width="9" height="14" fill="#ff0000"/>
<rect x="805" y="409" width="1" height="6" fill="#000"/>
<rect x="800" y="411" width="11" height="3" fill="#000"/>
<rect x="801" y="412" width="9" height="1" fill="#00ff00"/>
<rect x="821" y="408" width="1" height="58" fill="#000"/>
<rect x="816" y="413" width="11" height="39" fill="#000"/>
<rect x="817" y="414" width="9" height="37" fill="#00ff00"/>
<rect x="837" y="444" width="1" height="43" fill="#000"/>
<rect x="832" y="451" width="11" height="32" fill="#000"/>
<rect x="833" y="452" width="9" height="30" fill="#00ff00"/>
<rect x="853" y="477" width="1" height="41" fill="#000"/>
<rect x="848" y="482" width="11" height="32" fill="#000"/>
<rect x="849" y="483" width="9" height="30" fill="#00ff00"/>
<rect x="869" y="489" width="1" height="34" fill="#000"/>
<rect x="864" y="498" width="11" height="16" fill="#000"/>
<rect x="865" y="499" width="9" height="14" fill="#ff0000"/>
<rect x="885" y="454" width="1" height="45" fill="#000"/>
<rect x="880" y="456" width="11" height="43" fill="#000"/>
<rect x="881" y="457" width="9" height="41" fill="#ff0000"/>
<rect x="901" y="452" width="1" height="21" fill="#000"/>
<rect x="896" y="456" width="11" height="14" fill="#000"/>
<rect x="897" y="457" width="9" height="12" fill="#00ff00"/>
<rect x="917" y="425" width="1" height="53" fill="#000"/>
<rect x="912" y="440" width="11" height="30" fill="#000"/>
<rect x="913" y="441" width="9" height="28" fill="#ff0000"/>
<rect x="933" y="415" width="1" height="32" fill="#000"/>
<rect x="928" y="421" width="11" height="20" fill="#000"/>
<rect x="929" y="422" width="9" height="18" fill="#ff0000"/>
<rect x="949" y="418" width="1" height="47" fill="#000"/>
<rect x="944" y="422" width="11" height="40" fill="#000"/>
<rect x="945" y="423" width="9" height="38" fill="#00ff00"/>
<rect x="965" y="445" width="1" height="42" fill="#000"/>
<rect x="960" y="461" width="11" height="22" fill="#000"/>
<rect x="961" y="462" width="9" height="20" fill="#00ff00"/>
<rect x="981" y="457" width="1" height="27" fill="#000"/>
<rect x="976" y="472" width="11" height="12" fill="#000"/>
<rect x="977" y="473" width="9" height="10" fill="#ff0000"/>
<rect x="997" y="463" width="1" height="15" fill="#000"/>
<rect x="992" y="466" width="11" height="7" fill="#000"/>
<rect x="993" y="467" width="9" height="5" fill="#ff0000"/>
<rect x="1013" y="451" width="1" height="29" fill="#000"/>
<rect x="1008" y="461" width="11" height="7" fill="#000"/>
<rect x="1009" y="462" width="9" height="5" fill="#ff0000"/>
<rect x="1029" y="427" width="1" height="37" fill="#000"/>
<rect x="1024" y="443" width="11" height="19" fill="#000"/>
<rect x="1025" y="444" width="9" height="17" fill="#ff0000"/>
<rect x="1045" y="418" width="1" height="29" fill="#000"/>
<rect x="1040" y="419" width="11" height="26" fill="#000"/>
<rect x="1041" y="420" width="9" height="24" fill="#ff0000"/>
<rect x="1061" y="350" width="1" height="95" fill="#000"/>
<rect x="1056" y="419" width="11" height="18" fill="#000"/>
<rect x="1057" y="420" width="9" height="16" fill="#00ff00"/>
<rect x="1077" y="433" width="1" height="55" fill="#000"/>
<rect x="1072" y="436" width="11" height="50" fill="#000"/>
<rect x="1073" y="437" width="9" height="48" fill="#00ff00"/>
<rect x="1093" y="483" width="1" height="18" fill="#000"/>
<rect x="1088" y="485" width="11" height="15" fill="#000"/>
<rect x="1089" y="486" width="9" height="13" fill="#00ff00"/>
<rect x="1109" y="469" width="1" height="35" fill="#000"/>
<rect x="1104" y="482" width="11" height="19" fill="#000"/>
<rect x="1105" y="483" width="9" height="17" fill="#ff0000"/>
<rect x="1125" y="470" width="1" height="24" fill="#000"/>
<rect x="1120" y="482" width="11" height="3" fill="#000"/>
<rect x="1121" y="483" width="9" height="1" fill="#00ff00"/>
<rect x="1141" y="471" width="1" height="30" fill="#000"/>
<rect x="1136" y="476" width="11" height="9" fill="#000"/>
<rect x="1137" y="477" width="9" height="7" fill="#ff0000"/>
<rect x="1157" y="472" width="1" height="63" fill="#000"/>
<rect x="1152" y="476" width="11" height="53" fill="#000"/>
<rect x="1153" y="477" width="9" height="51" fill="#00ff00"/>
<rect x="1173" y="515" width="1" height="23" fill="#000"/>
<rect x="1168" y="527" width="11" height="2" fill="#000"/>
<rect x="1189" y="518" width="1" height="10" fill="#000"/>
<rect x="1184" y="521" width="11" height="4" fill="#000"/>
<rect x="1185" y="522" width="9" height="2" fill="#00ff00"/>
<rect x="1205" y="521" width="1" height="59" fill="#000"/>
<rect x="1200" y="524" width="11" height="40" fill="#000"/>
<rect x="1201" y="525" width="9" height="38" fill="#00ff00"/>
<rect x="1221" y="521" width="1" height="47" fill="#000"/>
<rect x="1216" y="522" width="11" height="42" fill="#000"/>
<rect x="1217" y="523" width="9" height="40" fill="#ff0000"/>
<rect x="1237" y="512" width="1" height="26" fill="#000"/>
<rect x="1232" y="522" width="11" height="3" fill="#000"/>
<rect x="1233" y="523" width="9" height="1" fill="#00ff00"/>
<rect x="1253" y="521" width="1" height="63" fill="#000"/>
<rect x="1248" y="524" width="11" height="1" fill="#000"/>
<rect x="1269" y="513" width="1" height="36" fill="#000"/>
<rect x="1264" y="523" width="11" height="15" fill="#000"/>
<rect x="1265" y="524" width="9" height="13" fill="#00ff00"/>
<rect x="1285" y="534" width="1" height="5" fill="#000"/>
<rect x="1280" y="535" width="11" height="3" fill="#000"/>
<rect x="1281" y="536" width="9" height="1" fill="#ff0000"/>
</g>
<polygon points="1309.5,29 1319.5,29 1314.5,34.3" fill="#000" shape-rendering="auto"/>
<rect x="5" y="461" width="1639" height="2" fill="#ff0000"/>
<rect x="4" y="459" width="6" height="6" fill="#ff0000"/>
<rect x="6" y="461" width="2" height="2" fill="#fff"/>
<rect x="1638" y="459" width="6" height="6" fill="#ff0000"/>
<rect x="1640" y="461" width="2" height="2" fill="#fff"/>
<rect x="1646" y="456" width="41" height="11" fill="#ff0000"/>
<text x="1650" y="465" fill="#fff" stroke="#fff" stroke-width=".15" text-rendering="geometricPrecision" font-size="9.8" textLength="33.00" lengthAdjust="spacingAndGlyphs">0.65371</text>
<rect x="5" y="487" width="1639" height="2" fill="#ff0000"/>
<rect x="4" y="485" width="6" height="6" fill="#ff0000"/>
<rect x="6" y="487" width="2" height="2" fill="#fff"/>
<rect x="1638" y="485" width="6" height="6" fill="#ff0000"/>
<rect x="1640" y="487" width="2" height="2" fill="#fff"/>
<rect x="1646" y="482" width="41" height="11" fill="#ff0000"/>
<text x="1650" y="491" fill="#fff" stroke="#fff" stroke-width=".15" text-rendering="geometricPrecision" font-size="9.8" textLength="33.00" lengthAdjust="spacingAndGlyphs">0.65190</text>
<rect x="5" y="519" width="1639" height="2" fill="#cd853f"/>
<rect x="4" y="517" width="6" height="6" fill="#cd853f"/>
<rect x="6" y="519" width="2" height="2" fill="#fff"/>
<rect x="1638" y="517" width="6" height="6" fill="#cd853f"/>
<rect x="1640" y="519" width="2" height="2" fill="#fff"/>
<rect x="1646" y="514" width="41" height="11" fill="#cd853f"/>
<text x="1650" y="523" fill="#fff" stroke="#fff" stroke-width=".15" text-rendering="geometricPrecision" font-size="9.8" textLength="33.00" lengthAdjust="spacingAndGlyphs">0.64967</text>
<rect x="1646" y="530" width="41" height="11" fill="#000"/>
<text x="1650" y="539" fill="#fff" stroke="#fff" stroke-width=".15" text-rendering="geometricPrecision" font-size="9.8" textLength="33.00" lengthAdjust="spacingAndGlyphs">0.64863</text>
<rect x="5" y="563" width="1639" height="2" fill="#0000ff"/>
<rect x="4" y="561" width="6" height="6" fill="#0000ff"/>
<rect x="6" y="563" width="2" height="2" fill="#fff"/>
<rect x="1638" y="561" width="6" height="6" fill="#0000ff"/>
<rect x="1640" y="563" width="2" height="2" fill="#fff"/>
<rect x="1646" y="558" width="41" height="11" fill="#0000ff"/>
<text x="1650" y="567" fill="#fff" stroke="#fff" stroke-width=".15" text-rendering="geometricPrecision" font-size="9.8" textLength="33.00" lengthAdjust="spacingAndGlyphs">0.64660</text>
<rect x="5" y="591" width="1639" height="2" fill="#0000ff"/>
<rect x="4" y="589" width="6" height="6" fill="#0000ff"/>
<rect x="6" y="591" width="2" height="2" fill="#fff"/>
<rect x="1638" y="589" width="6" height="6" fill="#0000ff"/>
<rect x="1640" y="591" width="2" height="2" fill="#fff"/>
<rect x="1646" y="586" width="41" height="11" fill="#0000ff"/>
<text x="1650" y="595" fill="#fff" stroke="#fff" stroke-width=".15" text-rendering="geometricPrecision" font-size="9.8" textLength="33.00" lengthAdjust="spacingAndGlyphs">0.64465</text>
<g shape-rendering="auto" fill="#4c9a2a" stroke="none"><line x1="1217.5" y1="444.5" x2="1328" y2="488.8" stroke="#4c9a2a" stroke-width="3.2"/><polygon points="1329.5,479.9 1342.4,494.8 1322.9,495.9"/></g>
<rect x="5" y="618" width="2" height="7" fill="#00ff00"/>
<rect x="20" y="618" width="3" height="6" fill="#00ff00"/>
<rect x="36" y="618" width="3" height="5" fill="#00ff00"/>
<rect x="52" y="616" width="3" height="2" fill="#00ff00"/>
<rect x="68" y="610" width="3" height="8" fill="#00ff00"/>
<rect x="84" y="607" width="3" height="11" fill="#00ff00"/>
<rect x="100" y="613" width="3" height="5" fill="#00ff00"/>
<rect x="116" y="618" width="3" height="8" fill="#00ff00"/>
<rect x="132" y="618" width="3" height="15" fill="#00ff00"/>
<rect x="148" y="618" width="3" height="28" fill="#00ff00"/>
<rect x="164" y="618" width="3" height="44" fill="#00ff00"/>
<rect x="180" y="618" width="3" height="49" fill="#00ff00"/>
<rect x="196" y="618" width="3" height="53" fill="#00ff00"/>
<rect x="212" y="618" width="3" height="58" fill="#00ff00"/>
<rect x="228" y="618" width="3" height="60" fill="#00ff00"/>
<rect x="244" y="618" width="3" height="59" fill="#00ff00"/>
<rect x="260" y="618" width="3" height="54" fill="#00ff00"/>
<rect x="276" y="618" width="3" height="49" fill="#00ff00"/>
<rect x="292" y="618" width="3" height="39" fill="#00ff00"/>
<rect x="308" y="618" width="3" height="33" fill="#00ff00"/>
<rect x="324" y="618" width="3" height="29" fill="#00ff00"/>
<rect x="340" y="618" width="3" height="28" fill="#00ff00"/>
<rect x="356" y="618" width="3" height="35" fill="#00ff00"/>
<rect x="372" y="618" width="3" height="43" fill="#00ff00"/>
<rect x="388" y="618" width="3" height="51" fill="#00ff00"/>
<rect x="404" y="618" width="3" height="57" fill="#00ff00"/>
<rect x="420" y="618" width="3" height="60" fill="#00ff00"/>
<rect x="436" y="618" width="3" height="66" fill="#00ff00"/>
<rect x="452" y="618" width="3" height="71" fill="#00ff00"/>
<rect x="468" y="618" width="3" height="75" fill="#00ff00"/>
<rect x="484" y="618" width="3" height="83" fill="#00ff00"/>
<rect x="500" y="618" width="3" height="88" fill="#00ff00"/>
<rect x="516" y="618" width="3" height="92" fill="#00ff00"/>
<rect x="532" y="618" width="3" height="94" fill="#00ff00"/>
<rect x="548" y="618" width="3" height="96" fill="#00ff00"/>
<rect x="564" y="618" width="3" height="96" fill="#00ff00"/>
<rect x="580" y="618" width="3" height="92" fill="#00ff00"/>
<rect x="596" y="618" width="3" height="88" fill="#00ff00"/>
<rect x="612" y="618" width="3" height="82" fill="#00ff00"/>
<rect x="628" y="618" width="3" height="75" fill="#00ff00"/>
<rect x="644" y="618" width="3" height="70" fill="#00ff00"/>
<rect x="660" y="618" width="3" height="67" fill="#00ff00"/>
<rect x="676" y="618" width="3" height="56" fill="#00ff00"/>
<rect x="692" y="618" width="3" height="51" fill="#00ff00"/>
<rect x="708" y="618" width="3" height="47" fill="#00ff00"/>
<rect x="724" y="618" width="3" height="41" fill="#00ff00"/>
<rect x="740" y="618" width="3" height="37" fill="#00ff00"/>
<rect x="756" y="618" width="3" height="34" fill="#00ff00"/>
<rect x="772" y="618" width="3" height="33" fill="#00ff00"/>
<rect x="788" y="618" width="3" height="31" fill="#00ff00"/>
<rect x="804" y="618" width="3" height="28" fill="#00ff00"/>
<rect x="820" y="618" width="3" height="30" fill="#00ff00"/>
<rect x="836" y="618" width="3" height="34" fill="#00ff00"/>
<rect x="852" y="618" width="3" height="42" fill="#00ff00"/>
<rect x="868" y="618" width="3" height="45" fill="#00ff00"/>
<rect x="884" y="618" width="3" height="42" fill="#00ff00"/>
<rect x="900" y="618" width="3" height="41" fill="#00ff00"/>
<rect x="916" y="618" width="3" height="36" fill="#00ff00"/>
<rect x="932" y="618" width="3" height="31" fill="#00ff00"/>
<rect x="948" y="618" width="3" height="30" fill="#00ff00"/>
<rect x="964" y="618" width="3" height="31" fill="#00ff00"/>
<rect x="980" y="618" width="3" height="31" fill="#00ff00"/>
<rect x="996" y="618" width="3" height="30" fill="#00ff00"/>
<rect x="1012" y="618" width="3" height="28" fill="#00ff00"/>
<rect x="1028" y="618" width="3" height="24" fill="#00ff00"/>
<rect x="1044" y="618" width="3" height="18" fill="#00ff00"/>
<rect x="1060" y="618" width="3" height="16" fill="#00ff00"/>
<rect x="1076" y="618" width="3" height="18" fill="#00ff00"/>
<rect x="1092" y="618" width="3" height="23" fill="#00ff00"/>
<rect x="1108" y="618" width="3" height="23" fill="#00ff00"/>
<rect x="1124" y="618" width="3" height="22" fill="#00ff00"/>
<rect x="1140" y="618" width="3" height="22" fill="#00ff00"/>
<rect x="1156" y="618" width="3" height="28" fill="#00ff00"/>
<rect x="1172" y="618" width="3" height="31" fill="#00ff00"/>
<rect x="1188" y="618" width="3" height="33" fill="#00ff00"/>
<rect x="1204" y="618" width="3" height="39" fill="#00ff00"/>
<rect x="1220" y="618" width="3" height="38" fill="#00ff00"/>
<rect x="1236" y="618" width="3" height="37" fill="#00ff00"/>
<rect x="1252" y="618" width="3" height="36" fill="#00ff00"/>
<rect x="1268" y="618" width="3" height="37" fill="#00ff00"/>
<rect x="1284" y="618" width="3" height="36" fill="#00ff00"/>
<polyline points="5,626.5 21,624.75 37,623 53,621.5 69,619.75 85,618.5 101,618 117,618.5 133,619.5 149,621 165,624.75 181,629.25 197,635.5 213,643.5 229,651.5 245,658.5 261,663 277,666.5 293,668.5 309,667.25 325,664.75 341,661.75 357,659.75 373,658 389,657.25 405,656.75 421,659 437,662.25 453,666.5 469,671 485,677.25 501,683.5 517,688.5 533,693.5 549,697.75 565,701.75 581,704.75 597,706.5 613,706.75 629,706.25 645,704 661,701 677,697.25 693,693 709,688 725,682.25 741,676 757,671 773,666.75 789,661.75 805,657.25 821,654.25 837,652.5 853,651.75 869,653 885,653.25 901,653.75 917,653.75 933,653.75 949,653.75 965,653.75 981,653.75 997,652.5 1013,650 1029,648 1045,646 1061,644 1077,642.25 1093,641 1109,640.25 1125,640 1141,639.5 1157,639 1173,639.25 1189,641.5 1205,644.5 1221,646.6 1237,648.6 1253,649.4 1269,651.5 1285,652.2 1286,652.2" fill="none" stroke="#ff0000" stroke-width="2" stroke-linejoin="round"/>
<text x="9.3" y="612" fill="#000" stroke="#000" stroke-width=".15" text-rendering="geometricPrecision" font-size="9.8" textLength="154.30" lengthAdjust="spacingAndGlyphs">MACD(12,26,9) -0.001774 -0.001713</text>
<rect x="1645" y="601" width="1" height="1" fill="#000"/>
<text x="1648" y="611" fill="#000" stroke="#000" stroke-width=".15" text-rendering="geometricPrecision" font-size="9.8" textLength="38.08" lengthAdjust="spacingAndGlyphs">0.000913</text>
<rect x="1645" y="618" width="1" height="1" fill="#000"/>
<text x="1648" y="622" fill="#000" stroke="#000" stroke-width=".15" text-rendering="geometricPrecision" font-size="9.8" textLength="17.77" lengthAdjust="spacingAndGlyphs">0.00</text>
<rect x="1645" y="718" width="1" height="1" fill="#000"/>
<text x="1648" y="717" fill="#000" stroke="#000" stroke-width=".15" text-rendering="geometricPrecision" font-size="9.8" textLength="41.12" lengthAdjust="spacingAndGlyphs">-0.005093</text>
<path d="M6,744.5H1643" stroke="#000" stroke-width="1" stroke-dasharray="3,3" fill="none"/>
<path d="M6,775.5H1643" stroke="#000" stroke-width="1" stroke-dasharray="3,3" fill="none"/>
<path d="M6,813.5H1643" stroke="#000" stroke-width="1" stroke-dasharray="3,3" fill="none"/>
<polyline points="5,778.75 21,776 37,777 53,763 69,763 85,766.75 101,783.5 117,790 133,789 149,795.5 165,799 181,789.5 197,789.5 213,791 229,790 245,785.5 261,782.5 277,778.75 293,774 309,776 325,776.25 341,781.75 357,789.75 373,792.5 389,793.75 405,793 421,792.75 437,796.5 453,797.5 469,798.5 485,802 501,802 517,802 533,802.75 549,803 565,803 581,795 597,795 613,789.5 629,786.75 645,788 661,791 677,774.75 693,780.5 709,780.5 725,779 741,779 757,781.5 773,782.75 789,779.75 805,779.75 821,787.5 837,791.5 853,795 869,791.5 885,783 901,784 917,778.25 933,775.5 949,782.5 965,785 981,782.25 997,781.5 1013,780.5 1029,777.25 1045,772.5 1061,774.5 1077,784.5 1093,785.75 1109,783 1125,783 1141,782 1157,788.75 1173,788.75 1189,789 1205,794 1221,784.1 1237,783.9 1253,784.1 1269,785.9 1285,785.9 1286,785.9" fill="none" stroke="#1e90ff" stroke-width="2" stroke-linejoin="round"/>
<text x="9.2" y="734" fill="#000" stroke="#000" stroke-width=".15" text-rendering="geometricPrecision" font-size="9.8" textLength="68.60" lengthAdjust="spacingAndGlyphs">RSI(14) 40.2820</text>
<rect x="1645" y="723" width="1" height="1" fill="#000"/>
<text x="1648" y="732" fill="#000" stroke="#000" stroke-width=".15" text-rendering="geometricPrecision" font-size="9.8" textLength="15.23" lengthAdjust="spacingAndGlyphs">100</text>
<text x="1648" y="748" fill="#000" stroke="#000" stroke-width=".15" text-rendering="geometricPrecision" font-size="9.8" textLength="10.16" lengthAdjust="spacingAndGlyphs">80</text>
<text x="1648" y="779" fill="#000" stroke="#000" stroke-width=".15" text-rendering="geometricPrecision" font-size="9.8" textLength="10.16" lengthAdjust="spacingAndGlyphs">50</text>
<text x="1648" y="817" fill="#000" stroke="#000" stroke-width=".15" text-rendering="geometricPrecision" font-size="9.8" textLength="10.16" lengthAdjust="spacingAndGlyphs">15</text>
<rect x="1645" y="828" width="1" height="1" fill="#000"/>
<text x="1648" y="827" fill="#000" stroke="#000" stroke-width=".15" text-rendering="geometricPrecision" font-size="9.8" textLength="5.08" lengthAdjust="spacingAndGlyphs">0</text>
<rect x="5" y="830" width="1" height="3" fill="#000"/>
<text x="4.2" y="842" fill="#000" stroke="#000" stroke-width=".15" text-rendering="geometricPrecision" font-size="9.8" textLength="47.40" lengthAdjust="spacingAndGlyphs">26 Jul 2023</text>
<rect x="69" y="830" width="1" height="3" fill="#000"/>
<text x="68.2" y="842" fill="#000" stroke="#000" stroke-width=".15" text-rendering="geometricPrecision" font-size="9.8" textLength="50.40" lengthAdjust="spacingAndGlyphs">27 Jul 04:00</text>
<rect x="133" y="830" width="1" height="3" fill="#000"/>
<text x="132.2" y="842" fill="#000" stroke="#000" stroke-width=".15" text-rendering="geometricPrecision" font-size="9.8" textLength="50.40" lengthAdjust="spacingAndGlyphs">27 Jul 20:00</text>
<rect x="197" y="830" width="1" height="3" fill="#000"/>
<text x="196.2" y="842" fill="#000" stroke="#000" stroke-width=".15" text-rendering="geometricPrecision" font-size="9.8" textLength="50.40" lengthAdjust="spacingAndGlyphs">28 Jul 12:00</text>
<rect x="261" y="830" width="1" height="3" fill="#000"/>
<text x="260.2" y="842" fill="#000" stroke="#000" stroke-width=".15" text-rendering="geometricPrecision" font-size="9.8" textLength="50.40" lengthAdjust="spacingAndGlyphs">31 Jul 04:00</text>
<rect x="325" y="830" width="1" height="3" fill="#000"/>
<text x="324.2" y="842" fill="#000" stroke="#000" stroke-width=".15" text-rendering="geometricPrecision" font-size="9.8" textLength="50.40" lengthAdjust="spacingAndGlyphs">31 Jul 20:00</text>
<rect x="389" y="830" width="1" height="3" fill="#000"/>
<text x="388.2" y="842" fill="#000" stroke="#000" stroke-width=".15" text-rendering="geometricPrecision" font-size="9.8" textLength="50.40" lengthAdjust="spacingAndGlyphs">1 Aug 12:00</text>
<rect x="453" y="830" width="1" height="3" fill="#000"/>
<text x="452.2" y="842" fill="#000" stroke="#000" stroke-width=".15" text-rendering="geometricPrecision" font-size="9.8" textLength="50.40" lengthAdjust="spacingAndGlyphs">2 Aug 04:00</text>
<rect x="517" y="830" width="1" height="3" fill="#000"/>
<text x="516.2" y="842" fill="#000" stroke="#000" stroke-width=".15" text-rendering="geometricPrecision" font-size="9.8" textLength="50.40" lengthAdjust="spacingAndGlyphs">2 Aug 20:00</text>
<rect x="581" y="830" width="1" height="3" fill="#000"/>
<text x="580.2" y="842" fill="#000" stroke="#000" stroke-width=".15" text-rendering="geometricPrecision" font-size="9.8" textLength="50.40" lengthAdjust="spacingAndGlyphs">3 Aug 12:00</text>
<rect x="645" y="830" width="1" height="3" fill="#000"/>
<text x="644.2" y="842" fill="#000" stroke="#000" stroke-width=".15" text-rendering="geometricPrecision" font-size="9.8" textLength="50.40" lengthAdjust="spacingAndGlyphs">4 Aug 04:00</text>
<rect x="709" y="830" width="1" height="3" fill="#000"/>
<text x="708.2" y="842" fill="#000" stroke="#000" stroke-width=".15" text-rendering="geometricPrecision" font-size="9.8" textLength="50.40" lengthAdjust="spacingAndGlyphs">6 Aug 23:00</text>
<rect x="773" y="830" width="1" height="3" fill="#000"/>
<text x="772.2" y="842" fill="#000" stroke="#000" stroke-width=".15" text-rendering="geometricPrecision" font-size="9.8" textLength="50.40" lengthAdjust="spacingAndGlyphs">7 Aug 12:00</text>
<rect x="837" y="830" width="1" height="3" fill="#000"/>
<text x="836.2" y="842" fill="#000" stroke="#000" stroke-width=".15" text-rendering="geometricPrecision" font-size="9.8" textLength="50.40" lengthAdjust="spacingAndGlyphs">8 Aug 04:00</text>
<rect x="901" y="830" width="1" height="3" fill="#000"/>
<text x="900.2" y="842" fill="#000" stroke="#000" stroke-width=".15" text-rendering="geometricPrecision" font-size="9.8" textLength="50.40" lengthAdjust="spacingAndGlyphs">8 Aug 20:00</text>
<rect x="965" y="830" width="1" height="3" fill="#000"/>
<text x="964.2" y="842" fill="#000" stroke="#000" stroke-width=".15" text-rendering="geometricPrecision" font-size="9.8" textLength="50.40" lengthAdjust="spacingAndGlyphs">9 Aug 12:00</text>
<rect x="1029" y="830" width="1" height="3" fill="#000"/>
<text x="1028.2" y="842" fill="#000" stroke="#000" stroke-width=".15" text-rendering="geometricPrecision" font-size="9.8" textLength="55.40" lengthAdjust="spacingAndGlyphs">10 Aug 04:00</text>
<rect x="1093" y="830" width="1" height="3" fill="#000"/>
<text x="1092.2" y="842" fill="#000" stroke="#000" stroke-width=".15" text-rendering="geometricPrecision" font-size="9.8" textLength="55.40" lengthAdjust="spacingAndGlyphs">10 Aug 20:00</text>
<rect x="1157" y="830" width="1" height="3" fill="#000"/>
<text x="1156.2" y="842" fill="#000" stroke="#000" stroke-width=".15" text-rendering="geometricPrecision" font-size="9.8" textLength="55.40" lengthAdjust="spacingAndGlyphs">11 Aug 12:00</text>
<rect x="1221" y="830" width="1" height="3" fill="#000"/>
<text x="1220.2" y="842" fill="#000" stroke="#000" stroke-width=".15" text-rendering="geometricPrecision" font-size="9.8" textLength="55.40" lengthAdjust="spacingAndGlyphs">14 Aug 04:00</text>
<rect x="1285" y="830" width="1" height="3" fill="#000"/>
<text x="1284.2" y="842" fill="#000" stroke="#000" stroke-width=".15" text-rendering="geometricPrecision" font-size="9.8" textLength="55.40" lengthAdjust="spacingAndGlyphs">14 Aug 20:00</text>
</svg>
</body></html>
